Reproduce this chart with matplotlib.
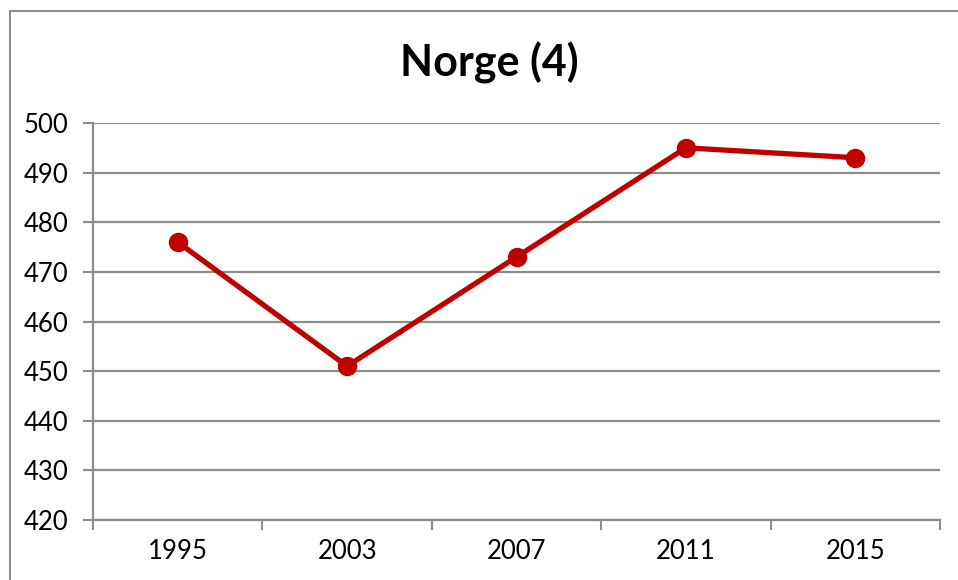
import matplotlib.pyplot as plt
from matplotlib.patches import Rectangle

years = ["1995", "2003", "2007", "2011", "2015"]
scores = [476, 451, 473, 495, 493]
yticks = [420, 430, 440, 450, 460, 470, 480, 490, 500]

plt.rcParams["font.family"] = ["Lato", "DejaVu Sans"]

fig = plt.figure(figsize=(9.58, 5.80), dpi=100)
ax = fig.add_axes([93 / 958, 1 - 520 / 580, (940 - 93) / 958, (520 - 123) / 580])

# outer chart frame (right and bottom edges fall outside the image)
fig.patches.append(Rectangle((10 / 958, -0.1), 1.2, 1 - 11 / 580 + 0.1,
                             transform=fig.transFigure, fill=False,
                             edgecolor="#8c8c8c", linewidth=1.5, clip_on=False))

x = [i + 0.5 for i in range(len(years))]
ax.plot(x, scores, color="#c00000", linewidth=3.8, marker="o", markersize=13,
        solid_capstyle="round", zorder=3)

ax.set_xlim(0, len(years))
ax.set_ylim(420, 500)
ax.set_yticks(yticks)
ax.set_xticks(range(len(years) + 1))
ax.set_xticklabels([])
ax.set_xticks(x, minor=True)
ax.set_xticklabels(years, minor=True)
ax.tick_params(axis="x", which="minor", length=0, pad=14, labelsize=18.5)
ax.tick_params(axis="x", which="major", length=7, width=1.5, color="#8c8c8c")
ax.tick_params(axis="y", length=7, width=1.5, color="#8c8c8c", labelsize=18.5, pad=11)

ax.grid(axis="y", color="#8c8c8c", linewidth=1.6)
ax.set_axisbelow(True)
for s in ["top", "right"]:
    ax.spines[s].set_visible(False)
for s in ["left", "bottom"]:
    ax.spines[s].set_color("#8c8c8c")
    ax.spines[s].set_linewidth(1.6)

fig.text(489 / 958, 1 - 63 / 580, "Norge (4)", ha="center", va="center",
         fontsize=31, fontweight="bold")

fig.savefig("out.png", dpi=100)
